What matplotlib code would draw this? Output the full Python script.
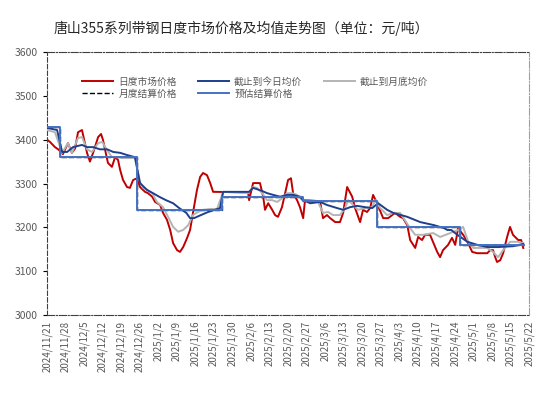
import numpy as np
import matplotlib
matplotlib.use("Agg")
import matplotlib.pyplot as plt

plt.rcParams['font.family'] = ['Noto Sans CJK SC', 'DejaVu Sans']

# x positions are days since 2024/11/21
tick_labels = ['2024/11/21', '2024/11/28', '2024/12/5', '2024/12/12', '2024/12/19',
               '2024/12/26', '2025/1/2', '2025/1/9', '2025/1/16', '2025/1/23',
               '2025/1/30', '2025/2/6', '2025/2/13', '2025/2/20', '2025/2/27',
               '2025/3/6', '2025/3/13', '2025/3/20', '2025/3/27', '2025/4/3',
               '2025/4/10', '2025/4/17', '2025/4/24', '2025/5/1', '2025/5/8',
               '2025/5/15', '2025/5/22']

# 日度市场价格
red_day = [0, 1.1, 3, 4.2, 5.7, 6, 7.9, 9.4, 10.6, 11.7, 13.2, 15.1, 16.2, 17.4, 19.3,
           20.4, 21.1, 23, 24.5, 25.7, 26.8, 27.6, 28.7, 30.2, 31.3, 32.5, 34, 35.1,
           37, 38.1, 39.7, 40.8, 42.7, 43.8, 45.3, 46.5, 47.6, 49.1, 50.2, 51.4, 52.9,
           54, 55.1, 56.6, 57.8, 58.9, 60.4, 61.6, 62.7, 75.9, 76.3, 77.8, 80.4, 81.6,
           82.3, 83.5, 85, 86.1, 87.2, 88.7, 89.9, 91, 92.1, 92.9, 94.4, 95.5, 96.7,
           97.4, 102.3, 103.1, 104.2, 105.7, 106.9, 108.8, 110.6, 111.8, 113.3, 115.2,
           116.3, 118.2, 119.3, 120.8, 122, 123.1, 124.6, 126.9, 128.8, 130.3, 131.4,
           133.3, 134.4, 136, 137.1, 139, 140.1, 141.6, 142.7, 144.6, 147.3, 148.4,
           149.5, 151.4, 152.9, 154.1, 155.2, 157.1, 159, 160.5, 162.4, 166.2, 167.3,
           168.4, 169.2, 169.9, 171.1, 172.2, 173.7, 174.8, 175.9, 177.9, 179, 179.8]
red_val = [3400, 3395, 3383, 3378, 3370, 3367, 3392, 3370, 3380, 3417, 3422, 3370, 3350,
           3370, 3406, 3413, 3400, 3347, 3338, 3360, 3354, 3331, 3308, 3292, 3290, 3308,
           3312, 3292, 3281, 3278, 3270, 3258, 3251, 3233, 3217, 3194, 3164, 3148, 3144,
           3155, 3176, 3194, 3233, 3285, 3315, 3324, 3319, 3301, 3281, 3280, 3262, 3301,
           3301, 3270, 3240, 3255, 3240, 3228, 3224, 3246, 3278, 3308, 3312, 3278, 3262,
           3246, 3221, 3262, 3260, 3258, 3221, 3228, 3221, 3212, 3212, 3233, 3292, 3270,
           3244, 3212, 3240, 3235, 3244, 3274, 3255, 3221, 3221, 3228, 3233, 3224, 3221,
           3205, 3171, 3153, 3178, 3171, 3183, 3183, 3144, 3132, 3148, 3160, 3176, 3160,
           3198, 3183, 3164, 3144, 3141, 3141, 3148, 3148, 3132, 3121, 3125, 3141, 3178,
           3201, 3183, 3171, 3171, 3153]

# 截止到今日均价
avg_day = [0, 3.8, 5.7, 7.6, 9.8, 13.2, 15.1, 17.4, 20, 22.7, 25, 27.6, 30.2, 33.2,
           35.1, 37.8, 40, 42.3, 44.9, 47.6, 49.9, 52.6, 54, 55.5, 58.1, 60.8, 63.4,
           65.3, 66.5, 76.3, 77.8, 79.3, 81.2, 83.1, 85.4, 88, 90.6, 92.9, 95.5, 96.7,
           99.4, 103.1, 105.7, 109.5, 111.8, 114.4, 117.1, 120.1, 122.8, 125, 128.4,
           130.7, 136, 140.9, 146.1, 150, 151.1, 152.6, 154.9, 158.7, 162.5, 166.3,
           170.1, 175.9, 179.8]
avg_val = [3427, 3422, 3372, 3372, 3383, 3388, 3383, 3383, 3378, 3378, 3372, 3370, 3365,
           3360, 3301, 3285, 3278, 3270, 3262, 3255, 3244, 3233, 3221, 3221, 3228, 3235,
           3240, 3244, 3281, 3281, 3290, 3287, 3283, 3278, 3274, 3270, 3274, 3274, 3270,
           3262, 3255, 3258, 3251, 3244, 3240, 3246, 3249, 3246, 3244, 3255, 3240, 3233,
           3224, 3212, 3205, 3198, 3194, 3194, 3183, 3167, 3160, 3155, 3155, 3157, 3162]

# 截止到月底均价
end_day = [0, 3, 5.7, 7.9, 9.4, 11.7, 13.2, 15.1, 17, 19.3, 20.8, 22.7, 24.5, 26.4,
           28.3, 33.2, 35.1, 36.3, 38.1, 39.7, 41.5, 43.8, 45.7, 47.6, 49.5, 51.4,
           53.3, 55.1, 57, 58.9, 61.6, 64.2, 66.5, 75.9, 77.8, 79.3, 81.2, 83.1, 85,
           86.9, 88.7, 90.6, 92.5, 94.4, 96.3, 102.3, 104.2, 106.1, 108, 110.6, 112.5,
           113.7, 115.6, 117.4, 120.1, 122.8, 123.9, 125.8, 128.4, 130.7, 133.3, 137.1,
           139, 142, 145.8, 148.4, 152.2, 155.2, 157.1, 159, 160.9, 166.2, 168.4, 170.3,
           172.2, 174.8, 177.5, 179.8]
end_val = [3422, 3417, 3370, 3392, 3370, 3404, 3406, 3378, 3372, 3392, 3395, 3376, 3360,
           3360, 3358, 3358, 3303, 3290, 3285, 3278, 3258, 3246, 3224, 3201, 3190, 3194,
           3205, 3228, 3235, 3240, 3242, 3242, 3281, 3278, 3292, 3290, 3278, 3262, 3262,
           3258, 3266, 3278, 3278, 3274, 3262, 3258, 3233, 3235, 3228, 3228, 3244, 3262,
           3251, 3240, 3244, 3246, 3262, 3244, 3228, 3233, 3233, 3198, 3183, 3183, 3187,
           3178, 3187, 3194, 3201, 3167, 3153, 3153, 3144, 3132, 3148, 3167, 3167, 3164]

# 预估结算价格 / 月度结算价格 (steps)
step_day = [0, 5, 34, 66, 96.7, 124.6, 156, 180]
step_val = [3430, 3360, 3240, 3270, 3260, 3200, 3160, 3160]

fig = plt.figure(figsize=(5.5, 3.97), dpi=100)
ax = fig.add_axes([0.0855, 0.2065, 0.8765, 0.6625])

ax.plot(step_day, step_val, drawstyle='steps-post', color='black', lw=1, ls='--',
        label='月度结算价格', zorder=1)
ax.plot(red_day, red_val, color='#C00000', lw=1.4, label='日度市场价格', zorder=2)
ax.plot(end_day, end_val, color='#B4B4B4', lw=1.4, label='截止到月底均价', zorder=3)
ax.plot(avg_day, avg_val, color='#1F3F8C', lw=1.4, label='截止到今日均价', zorder=4)
ax.plot(step_day, step_val, drawstyle='steps-post', color='#4472C4', lw=1.4,
        label='预估结算价格', zorder=5)

ax.set_xlim(0, 182)
ax.set_ylim(3000, 3600)
ax.set_yticks(np.arange(3000, 3601, 100))
ax.set_xticks(np.arange(0, 183, 7))
ax.set_xticklabels(tick_labels, rotation=90)
ax.tick_params(axis='x', length=0, labelsize=7, colors='#595959', pad=4)
ax.tick_params(axis='y', length=3, labelsize=7.5, colors='#595959', direction='out')
ax.tick_params(axis='y', color='black')

ax.spines['left'].set_linestyle((0, (4, 2)))
ax.spines['left'].set_color('#404040')
ax.spines['left'].set_linewidth(0.8)
for s in ['top', 'bottom']:
    ax.spines[s].set_linestyle('-.')
    ax.spines[s].set_color('#404040')
    ax.spines[s].set_linewidth(0.8)
ax.spines['right'].set_linestyle('-.')
ax.spines['right'].set_color('#A0A0A0')
ax.spines['right'].set_linewidth(0.8)

handles, labels = ax.get_legend_handles_labels()
order = [1, 0, 3, 4, 2]
leg = ax.legend([handles[i] for i in order], [labels[i] for i in order],
                loc='upper left', bbox_to_anchor=(0.055, 0.94), ncol=3, frameon=False,
                fontsize=7, handlelength=3.2, columnspacing=2.2, labelspacing=0.2,
                handletextpad=0.5)
for t in leg.get_texts():
    t.set_color('#595959')

fig.text(0.438, 0.928, '唐山355系列带钢日度市场价格及均值走势图（单位：元/吨）',
         ha='center', va='center', fontsize=10, color='#262626')

fig.savefig('out.png', dpi=100)
